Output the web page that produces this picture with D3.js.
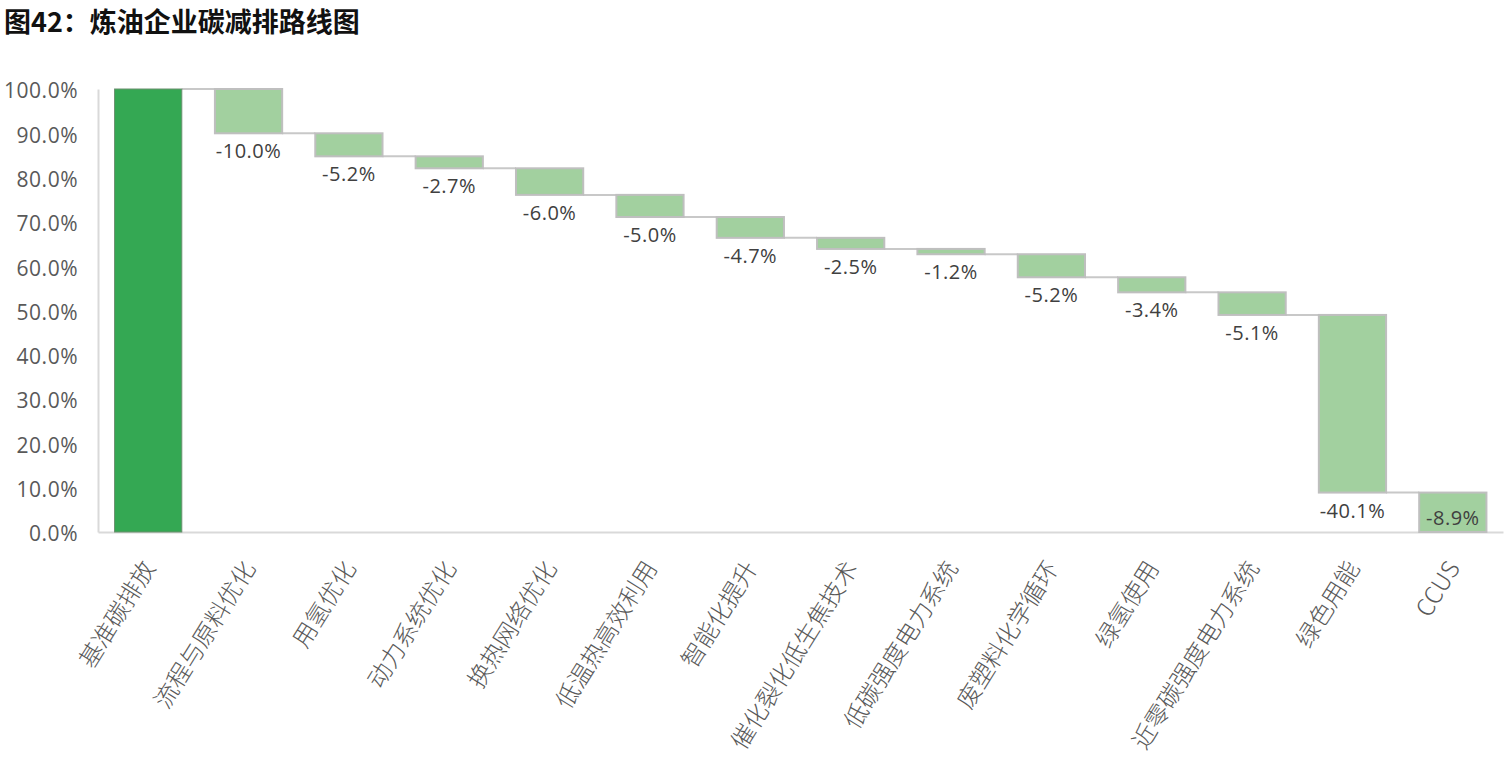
<!DOCTYPE html>
<html><head><meta charset="utf-8">
<script src="https://cdn.jsdelivr.net/npm/d3@7"></script>
<style>
body{margin:0;background:#fff;}
svg{display:block;}
</style></head>
<body>
<svg id="chart" width="1508" height="768"></svg>
<script>
const categories = ["基准碳排放","流程与原料优化","用氢优化","动力系统优化","换热网络优化","低温热高效利用","智能化提升","催化裂化低生焦技术","低碳强度电力系统","废塑料化学循环","绿氢使用","近零碳强度电力系统","绿色用能","CCUS"];
const baseValue = 100.0;
const reductions = [10.0,5.2,2.7,6.0,5.0,4.7,2.5,1.2,5.2,3.4,5.1,40.1,8.9];
const yTicks = [0,10,20,30,40,50,60,70,80,90,100];
const titleText = "图42：炼油企业碳减排路线图";

// build waterfall rows
const rows = [];
let level = baseValue;
rows.push({cat:categories[0], top:baseValue, bottom:0, base:true});
reductions.forEach((r,i)=>{
  const top = level, bottom = +(level - r).toFixed(4);
  rows.push({cat:categories[i+1], top, bottom, r, base:false});
  level = bottom;
});

const svg = d3.select("#chart");
const x = d3.scaleBand().domain(categories).range([98,1503]).paddingInner(0.33).paddingOuter(0.165);
const y = d3.scaleLinear().domain([0,100]).range([532,89]);

// title
svg.append("text").attr("x",4).attr("y",32)
  .attr("font-family","'Noto Sans CJK SC',sans-serif").attr("font-weight","bold")
  .attr("font-size",27).attr("fill","#111").text(titleText);

// y axis
const yAxis = svg.append("g").attr("transform","translate(98,0)")
  .call(d3.axisLeft(y).tickValues(yTicks).tickSize(0).tickPadding(20).tickFormat(d=>d3.format(".1f")(d)+"%"));
yAxis.select(".domain").attr("stroke","#d9d9d9").attr("stroke-width",2);
yAxis.selectAll("text").attr("font-family","'Open Sans',sans-serif").attr("font-size",21)
  .attr("fill","#595959").attr("dy","0.42em").attr("letter-spacing","0.5px");

// x axis
const xAxis = svg.append("g").attr("transform","translate(0,532)")
  .call(d3.axisBottom(x).tickSize(0).tickPadding(0));
xAxis.select(".domain").attr("stroke","#d9d9d9").attr("stroke-width",2);
xAxis.selectAll("text")
  .attr("font-family","'Noto Sans CJK SC',sans-serif").attr("font-size",24).attr("fill","#595959")
  .attr("font-weight",300)
  .attr("text-anchor","end").attr("dy",0).attr("y",0)
  .attr("transform","translate(8,36) rotate(-58)");

// connectors
const conn = svg.append("g");
rows.forEach((d,i)=>{
  if(i===rows.length-1) return;
  const lvl = d.base ? d.top : d.bottom;
  conn.append("line")
    .attr("x1",x(d.cat)+x.bandwidth()).attr("x2",x(rows[i+1].cat))
    .attr("y1",y(lvl)).attr("y2",y(lvl))
    .attr("stroke","#c8c8c8").attr("stroke-width",2);
});

// bars
svg.append("g").selectAll("rect").data(rows).join("rect")
  .attr("x",d=>x(d.cat)).attr("width",x.bandwidth())
  .attr("y",d=>y(d.top)).attr("height",d=>y(d.bottom)-y(d.top))
  .attr("fill",d=>d.base?"#34a853":"#a2d09f")
  .attr("stroke",d=>d.base?"#6a8f6f":"#bfbfbf").attr("stroke-width",d=>d.base?1:2);

// value labels
svg.append("g").selectAll("text").data(rows.filter(d=>!d.base)).join("text")
  .attr("x",d=>x(d.cat)+x.bandwidth()/2)
  .attr("y",d=>Math.min(y(d.bottom)+25, 532-7))
  .attr("text-anchor","middle")
  .attr("font-family","'Open Sans',sans-serif").attr("font-size",20).attr("fill","#404040")
  .attr("letter-spacing","0.5px")
  .text(d=>"-"+d3.format(".1f")(d.r)+"%");
</script>
</body></html>
